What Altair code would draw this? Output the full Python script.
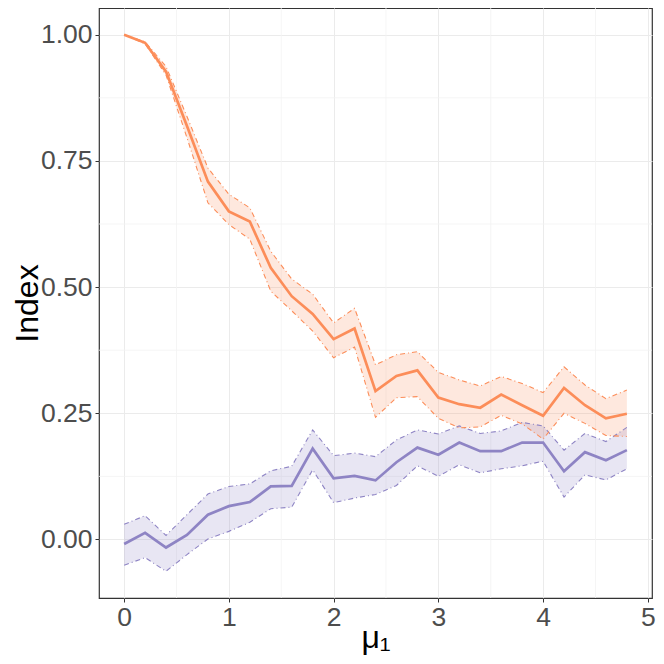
import altair as alt
import pandas as pd

mu = [0.0, 0.2, 0.4, 0.6, 0.8, 1.0, 1.2, 1.4, 1.6, 1.8, 2.0, 2.2, 2.4,
      2.6, 2.8, 3.0, 3.2, 3.4, 3.6, 3.8, 4.0, 4.2, 4.4, 4.6, 4.8]

orange_mean = [1.000, 0.984, 0.927, 0.819, 0.709, 0.650, 0.630, 0.538, 0.482, 0.447, 0.397, 0.418, 0.294,
               0.324, 0.335, 0.281, 0.268, 0.261, 0.287, 0.266, 0.245, 0.300, 0.266, 0.240, 0.249]
orange_hi = [1.000, 0.986, 0.937, 0.838, 0.736, 0.684, 0.657, 0.571, 0.516, 0.486, 0.429, 0.458, 0.346,
             0.366, 0.372, 0.331, 0.316, 0.304, 0.323, 0.309, 0.291, 0.342, 0.306, 0.279, 0.296]
orange_lo = [1.000, 0.982, 0.920, 0.796, 0.667, 0.624, 0.595, 0.492, 0.453, 0.413, 0.360, 0.381, 0.242,
             0.281, 0.283, 0.240, 0.221, 0.223, 0.246, 0.229, 0.199, 0.250, 0.230, 0.206, 0.204]

purple_mean = [-0.009, 0.013, -0.016, 0.009, 0.049, 0.066, 0.074, 0.105, 0.106, 0.180, 0.121, 0.126, 0.117,
               0.153, 0.182, 0.168, 0.192, 0.175, 0.175, 0.192, 0.192, 0.135, 0.173, 0.157, 0.177]
purple_hi = [0.030, 0.047, 0.008, 0.049, 0.090, 0.105, 0.110, 0.136, 0.145, 0.217, 0.166, 0.171, 0.164,
             0.197, 0.217, 0.209, 0.225, 0.210, 0.215, 0.232, 0.225, 0.177, 0.210, 0.194, 0.222]
purple_lo = [-0.051, -0.036, -0.063, -0.030, 0.001, 0.016, 0.034, 0.061, 0.064, 0.138, 0.073, 0.082, 0.089,
             0.107, 0.146, 0.125, 0.148, 0.132, 0.140, 0.146, 0.155, 0.084, 0.128, 0.118, 0.140]

series_names = ["A", "B"]
series_colors = ["#FC8D59", "#8E84C4"]

x_ticks = [0, 1, 2, 3, 4, 5]
y_ticks = [0.0, 0.25, 0.5, 0.75, 1.0]
x_minor = [0.5, 1.5, 2.5, 3.5, 4.5]
y_minor = [0.125, 0.375, 0.625, 0.875]

rows = []
for name, m, h, l in [("A", orange_mean, orange_hi, orange_lo),
                      ("B", purple_mean, purple_hi, purple_lo)]:
    for i, xv in enumerate(mu):
        rows.append({"mu": xv, "mean": m[i], "hi": h[i], "lo": l[i], "series": name})
df = pd.DataFrame(rows)

xscale = alt.Scale(domain=[-0.24, 5.04], nice=False, zero=False)
yscale = alt.Scale(domain=[-0.116, 1.053], nice=False, zero=False)
cscale = alt.Scale(domain=series_names, range=series_colors)

xaxis = alt.Axis(values=x_ticks, format="d", title="μ₁", grid=True, gridColor="#EBEBEB",
                 gridWidth=1, labelFontSize=26.5, labelColor="#4D4D4D", labelFont="Liberation Sans",
                 titleFontSize=32, titleFont="Liberation Sans", titleColor="#000000",
                 titleFontWeight="normal", tickColor="#333333", tickSize=4, domain=False,
                 labelPadding=2, titleBaseline="alphabetic", titleY=49, labelFlush=False)
yaxis = alt.Axis(values=y_ticks, format=".2f", title="Index", grid=True, gridColor="#EBEBEB",
                 gridWidth=1, labelFontSize=26.5, labelColor="#4D4D4D", labelFont="Liberation Sans",
                 titleFontSize=32, titleFont="Liberation Sans", titleColor="#000000",
                 titleFontWeight="normal", tickColor="#333333", tickSize=4, domain=False,
                 labelPadding=3, titleBaseline="alphabetic", titleX=-62, labelFlush=False)

base = alt.Chart(df)

minor_x = alt.Chart(pd.DataFrame({"mx": x_minor})).mark_rule(
    color="#F2F2F2", strokeWidth=0.8).encode(x=alt.X("mx:Q", scale=xscale, axis=xaxis))
minor_y = alt.Chart(pd.DataFrame({"my": y_minor})).mark_rule(
    color="#F2F2F2", strokeWidth=0.8).encode(y=alt.Y("my:Q", scale=yscale, axis=yaxis))

band = base.mark_area(opacity=0.2).encode(
    x=alt.X("mu:Q", scale=xscale, axis=xaxis),
    y=alt.Y("hi:Q", scale=yscale, axis=yaxis),
    y2="lo:Q",
    color=alt.Color("series:N", scale=cscale, legend=None),
    detail="series:N",
)
hi_line = base.mark_line(strokeWidth=1.1, strokeDash=[5, 3, 1, 3]).encode(
    x=alt.X("mu:Q", scale=xscale, axis=xaxis), y=alt.Y("hi:Q", scale=yscale, axis=yaxis),
    color=alt.Color("series:N", scale=cscale, legend=None))
lo_line = base.mark_line(strokeWidth=1.1, strokeDash=[5, 3, 1, 3]).encode(
    x=alt.X("mu:Q", scale=xscale, axis=xaxis), y=alt.Y("lo:Q", scale=yscale, axis=yaxis),
    color=alt.Color("series:N", scale=cscale, legend=None))
mean_line = base.mark_line(strokeWidth=2.7).encode(
    x=alt.X("mu:Q", scale=xscale, axis=xaxis), y=alt.Y("mean:Q", scale=yscale, axis=yaxis),
    color=alt.Color("series:N", scale=cscale, legend=None))

chart = alt.layer(minor_x, minor_y, band, hi_line, lo_line, mean_line).properties(
    width=553, height=590,
    autosize=alt.AutoSizeParams(type="none"),
    padding={"left": 91, "top": 0, "right": 4, "bottom": 57},
    background="white",
).configure_view(stroke="#333333", strokeWidth=1.2)

chart.save("out.html", embed_options={"renderer": "svg", "actions": False})
